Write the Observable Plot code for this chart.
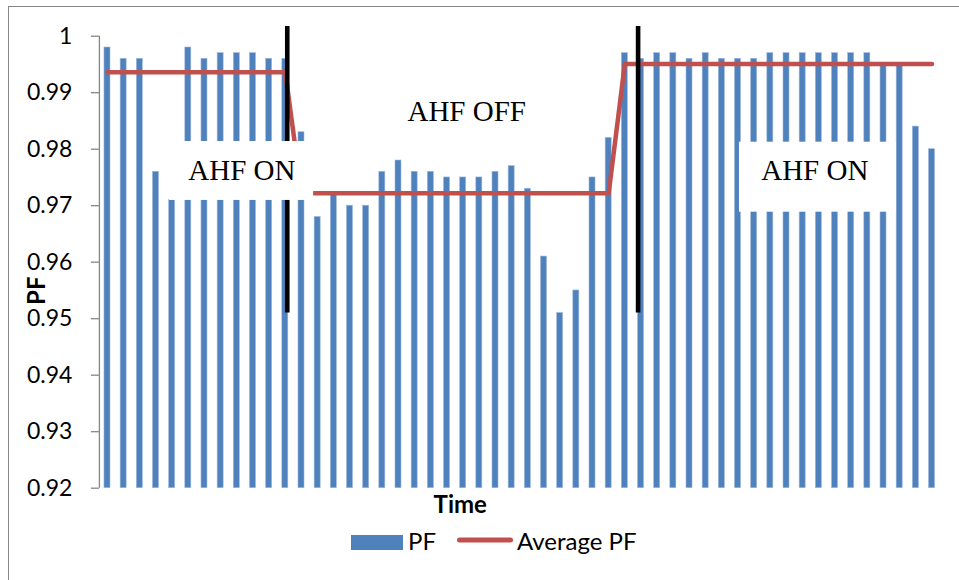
<!DOCTYPE html>
<html><head><meta charset="utf-8">
<script src="https://cdn.jsdelivr.net/npm/d3@7"></script>
<script src="https://cdn.jsdelivr.net/npm/@observablehq/plot@0.6"></script>
<style>
body{margin:0;background:#fff;}
#wrap{position:relative;width:959px;height:580px;overflow:hidden;font-family:Lato,sans-serif;}
#frame{position:absolute;left:8px;top:6px;width:960px;height:590px;border-left:1.6px solid #868686;border-top:1.6px solid #868686;pointer-events:none;}
#legend{position:absolute;left:0;top:520px;}
#chart{position:absolute;left:0;top:0;}
</style></head>
<body>
<div id="wrap"><div id="chart"></div><svg id="legend" width="959" height="60"></svg><div id="frame"></div></div>
<script>
// PF value for each time step (52 bars)
const pf = [
  0.998,0.996,0.996,0.976,0.971,0.998,0.996,0.997,0.997,0.997,0.996,0.996,
  0.983,0.968,0.972,0.970,0.970,0.976,0.978,0.976,0.976,0.975,0.975,0.975,0.976,0.977,0.973,0.961,0.951,0.955,0.975,0.982,
  0.997,0.996,0.997,0.997,0.996,0.997,0.996,0.996,0.996,0.997,0.997,0.997,0.997,0.997,0.997,0.997,0.995,0.995,0.984,0.980
];
// Average PF for each time step
const avgPF = [
  0.9936,0.9936,0.9936,0.9936,0.9936,0.9936,0.9936,0.9936,0.9936,0.9936,0.9936,0.9936,
  0.9722,0.9722,0.9722,0.9722,0.9722,0.9722,0.9722,0.9722,0.9722,0.9722,0.9722,0.9722,0.9722,0.9722,0.9722,0.9722,0.9722,0.9722,0.9722,0.9722,
  0.9951,0.9951,0.9951,0.9951,0.9951,0.9951,0.9951,0.9951,0.9951,0.9951,0.9951,0.9951,0.9951,0.9951,0.9951,0.9951,0.9951,0.9951,0.9951,0.9951
];
const yTicks = [0.92,0.93,0.94,0.95,0.96,0.97,0.98,0.99,1];
const yTickLabels = ["0.92","0.93","0.94","0.95","0.96","0.97","0.98","0.99","1"];
// switch-over markers (in time-step units) and their vertical extent
const dividerX = [12.12, 33.82];
const dividerY = [0.951, 1.0017];
// annotation labels
const labelText = ["AHF ON","AHF OFF","AHF ON"];
const labelX = [9.31, 23.22, 44.75];
const labelY = [0.9762, 0.9866, 0.9762];
// white label boxes
const boxX1 = [4.84, 40.09];
const boxX2 = [13.75, 49.8];
const boxY1 = [0.97093, 0.96885];
const boxY2 = [0.98136, 0.98124];

const bars = pf.map((v, i) => ({t: i + 1, v}));
const avg = avgPF.map((v, i) => ({t: i + 1, v}));
const boxes = boxX1.map((x1, i) => ({x1, x2: boxX2[i], y1: boxY1[i], y2: boxY2[i]}));
const labels = labelText.map((s, i) => ({s, x: labelX[i], y: labelY[i]}));

const W = 959, H = 520;
const chart = Plot.plot({
  width: W, height: H,
  marginLeft: 98.9, marginRight: 19.4, marginTop: 35.7, marginBottom: 32.3,
  x: {type: "linear", domain: [0.5, 52.5], axis: null},
  y: {domain: [0.92, 1], axis: null},
  marks: [
    Plot.rectY(bars, {x1: d => d.t - 0.5, x2: d => d.t + 0.5, y1: yTicks[0], y2: "v",
      fill: "#4F81BD", stroke: "#9db8dc", strokeWidth: 0.6, insetLeft: 5.08, insetRight: 5.08}),
    Plot.lineY(avg, {x: "t", y: "v", stroke: "#C0504D", strokeWidth: 4.5, strokeLinecap: "round", strokeLinejoin: "round"}),
    Plot.ruleX(dividerX, {x: d => d, y1: dividerY[0], y2: dividerY[1], stroke: "black", strokeWidth: 4.6}),
    Plot.rect(boxes, {x1: "x1", x2: "x2", y1: "y1", y2: "y2", fill: "white"}),
    Plot.text(labels, {x: "x", y: "y", text: "s", fontFamily: "Liberation Serif", fontSize: 29, fill: "black", textAnchor: "middle", lineAnchor: "middle"}),
    Plot.ruleX([0.5], {stroke: "#868686", strokeWidth: 1.3}),
    Plot.axisY(yTicks, {tickFormat: (d, i) => yTickLabels[i], tickSize: 8, tickPadding: 19,
      fontSize: 23, fontFamily: "Lato", color: "black", stroke: "#868686", strokeWidth: 1.3, label: null}),
    Plot.text(["PF"], {frameAnchor: "left", dx: -62, dy: 28.5, rotate: -90, textAnchor: "middle", fontWeight: "bold", fontSize: 24, fontFamily: "Lato", fill: "black", lineAnchor: "middle"}),
    Plot.text(["Time"], {frameAnchor: "bottom", dx: -59.5, dy: 17.5, fontWeight: "bold", fontSize: 24, fontFamily: "Lato", fill: "black", lineAnchor: "middle"})
  ]
});
document.getElementById("chart").appendChild(chart);

// legend
const lg = d3.select("#legend");
lg.append("rect").attr("x", 351).attr("y", 15).attr("width", 52).attr("height", 15).attr("fill", "#4F81BD");
lg.append("text").attr("x", 408).attr("y", 30).text("PF").attr("font-family", "Lato").attr("font-size", 24).attr("fill", "black");
lg.append("line").attr("x1", 459.5).attr("x2", 510.5).attr("y1", 20).attr("y2", 20).attr("stroke", "#C0504D").attr("stroke-width", 5).attr("stroke-linecap", "round");
lg.append("text").attr("x", 517).attr("y", 30).text("Average PF").attr("font-family", "Lato").attr("font-size", 24).attr("fill", "black");
</script>
</body></html>
